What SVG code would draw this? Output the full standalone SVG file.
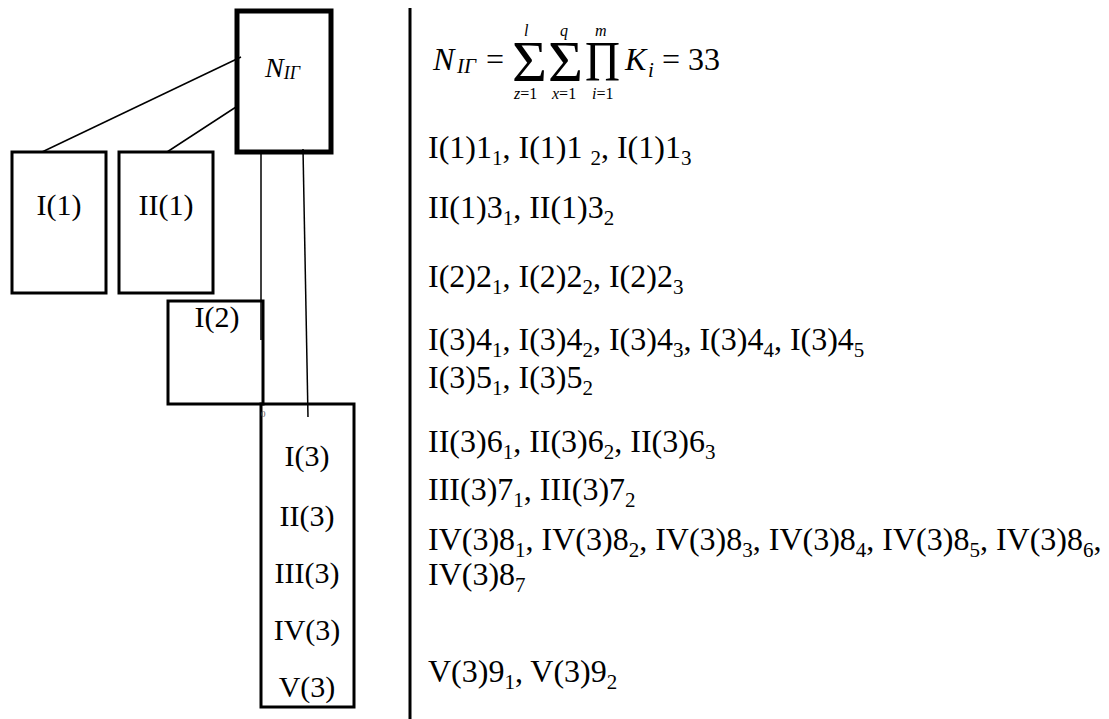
<svg xmlns="http://www.w3.org/2000/svg" width="1109" height="719" viewBox="0 0 1109 719">
<style>
.t{font-family:"Liberation Serif","Times New Roman",serif;font-size:32px;fill:#000}
.lb{font-family:"Liberation Serif","Times New Roman",serif;font-size:30px;fill:#000;text-anchor:middle}
.it{font-style:italic}
.sb{font-size:21px}
.box{fill:none;stroke:#000;stroke-width:3}
.big{fill:none;stroke:#000;stroke-width:5}
.ln{stroke:#000;stroke-width:1.5;fill:none}
.lim{font-family:"Liberation Serif","Times New Roman",serif;font-size:16px;fill:#000}
</style>
<rect width="1109" height="719" fill="#fff"/>
<g id="connectors">
<line class="ln" x1="42" y1="152" x2="241" y2="57"/>
<line class="ln" x1="167" y1="152" x2="236" y2="107"/>
<line class="ln" x1="261" y1="154" x2="261" y2="340"/>
<line class="ln" x1="303" y1="149" x2="308" y2="417"/>
</g>
<g id="node-nig">
<rect class="big" x="237" y="11" width="94" height="141"/>
<text class="t it" x="265" y="77" style="font-size:28px">N<tspan class="sb" style="font-size:18px" dy="2">IГ</tspan></text>
</g>
<g id="node-i1">
<rect class="box" x="12" y="152" width="94" height="141"/>
<text class="lb" x="59" y="215">I(1)</text>
</g>
<g id="node-ii1">
<rect class="box" x="119" y="152" width="94" height="141"/>
<text class="lb" x="166" y="215">II(1)</text>
</g>
<g id="node-i2">
<rect class="box" x="168" y="301" width="95" height="103"/>
<text class="lb" x="217" y="327">I(2)</text>
</g>
<g id="node-3">
<rect class="box" x="261" y="404" width="93" height="303"/>
<text x="261" y="417" style="font-family:'Liberation Serif',serif;font-size:9px;fill:#555">0</text>
<text class="lb" x="307" y="466">I(3)</text>
<text class="lb" x="307" y="526">II(3)</text>
<text class="lb" x="307" y="583">III(3)</text>
<text class="lb" x="307" y="640">IV(3)</text>
<text class="lb" x="307" y="697">V(3)</text>
</g>
<line x1="410" y1="8" x2="410" y2="719" stroke="#000" stroke-width="3"/>
<g id="formula">
<text class="t it" x="433" y="70">N</text>
<text class="t it sb" x="457" y="73">IГ</text>
<text class="t" x="486" y="70">=</text>
<text class="t" x="512" y="81" style="font-size:58px" textLength="35" lengthAdjust="spacingAndGlyphs">Σ</text>
<text class="t" x="548" y="81" style="font-size:58px" textLength="35" lengthAdjust="spacingAndGlyphs">Σ</text>
<text class="t" x="585" y="81" style="font-size:58px" textLength="35" lengthAdjust="spacingAndGlyphs">Π</text>
<text class="t it" x="625" y="70">K</text>
<text class="t it sb" x="648" y="77">i</text>
<text class="t" x="662" y="70">=</text>
<text class="t" x="688" y="70">33</text>
<text class="lim it" x="524" y="36">l</text>
<text class="lim it" x="560" y="36">q</text>
<text class="lim it" x="595" y="36">m</text>
<text class="lim" x="514" y="99"><tspan class="it">z</tspan>=1</text>
<text class="lim" x="552" y="99"><tspan class="it">x</tspan>=1</text>
<text class="lim" x="592" y="99"><tspan class="it">i</tspan>=1</text>
</g>
<g id="list">
<text class="t" x="428" y="158">I(1)1<tspan class="sb" dy="7">1</tspan><tspan dy="-7">, I(1)1 </tspan><tspan class="sb" dy="7">2</tspan><tspan dy="-7">, I(1)1</tspan><tspan class="sb" dy="7">3</tspan></text>
<text class="t" x="428" y="218">II(1)3<tspan class="sb" dy="7">1</tspan><tspan dy="-7">, II(1)3</tspan><tspan class="sb" dy="7">2</tspan></text>
<text class="t" x="428" y="287">I(2)2<tspan class="sb" dy="7">1</tspan><tspan dy="-7">, I(2)2</tspan><tspan class="sb" dy="7">2</tspan><tspan dy="-7">, I(2)2</tspan><tspan class="sb" dy="7">3</tspan></text>
<text class="t" x="428" y="350">I(3)4<tspan class="sb" dy="7">1</tspan><tspan dy="-7">, I(3)4</tspan><tspan class="sb" dy="7">2</tspan><tspan dy="-7">, I(3)4</tspan><tspan class="sb" dy="7">3</tspan><tspan dy="-7">, I(3)4</tspan><tspan class="sb" dy="7">4</tspan><tspan dy="-7">, I(3)4</tspan><tspan class="sb" dy="7">5</tspan></text>
<text class="t" x="428" y="388">I(3)5<tspan class="sb" dy="7">1</tspan><tspan dy="-7">, I(3)5</tspan><tspan class="sb" dy="7">2</tspan></text>
<text class="t" x="428" y="452">II(3)6<tspan class="sb" dy="7">1</tspan><tspan dy="-7">, II(3)6</tspan><tspan class="sb" dy="7">2</tspan><tspan dy="-7">, II(3)6</tspan><tspan class="sb" dy="7">3</tspan></text>
<text class="t" x="428" y="500">III(3)7<tspan class="sb" dy="7">1</tspan><tspan dy="-7">, III(3)7</tspan><tspan class="sb" dy="7">2</tspan></text>
<text class="t" x="428" y="550">IV(3)8<tspan class="sb" dy="7">1</tspan><tspan dy="-7">, IV(3)8</tspan><tspan class="sb" dy="7">2</tspan><tspan dy="-7">, IV(3)8</tspan><tspan class="sb" dy="7">3</tspan><tspan dy="-7">, IV(3)8</tspan><tspan class="sb" dy="7">4</tspan><tspan dy="-7">, IV(3)8</tspan><tspan class="sb" dy="7">5</tspan><tspan dy="-7">, IV(3)8</tspan><tspan class="sb" dy="7">6</tspan><tspan dy="-7">,</tspan></text>
<text class="t" x="428" y="585">IV(3)8<tspan class="sb" dy="7">7</tspan></text>
<text class="t" x="428" y="682">V(3)9<tspan class="sb" dy="7">1</tspan><tspan dy="-7">, V(3)9</tspan><tspan class="sb" dy="7">2</tspan></text>
</g>
</svg>
